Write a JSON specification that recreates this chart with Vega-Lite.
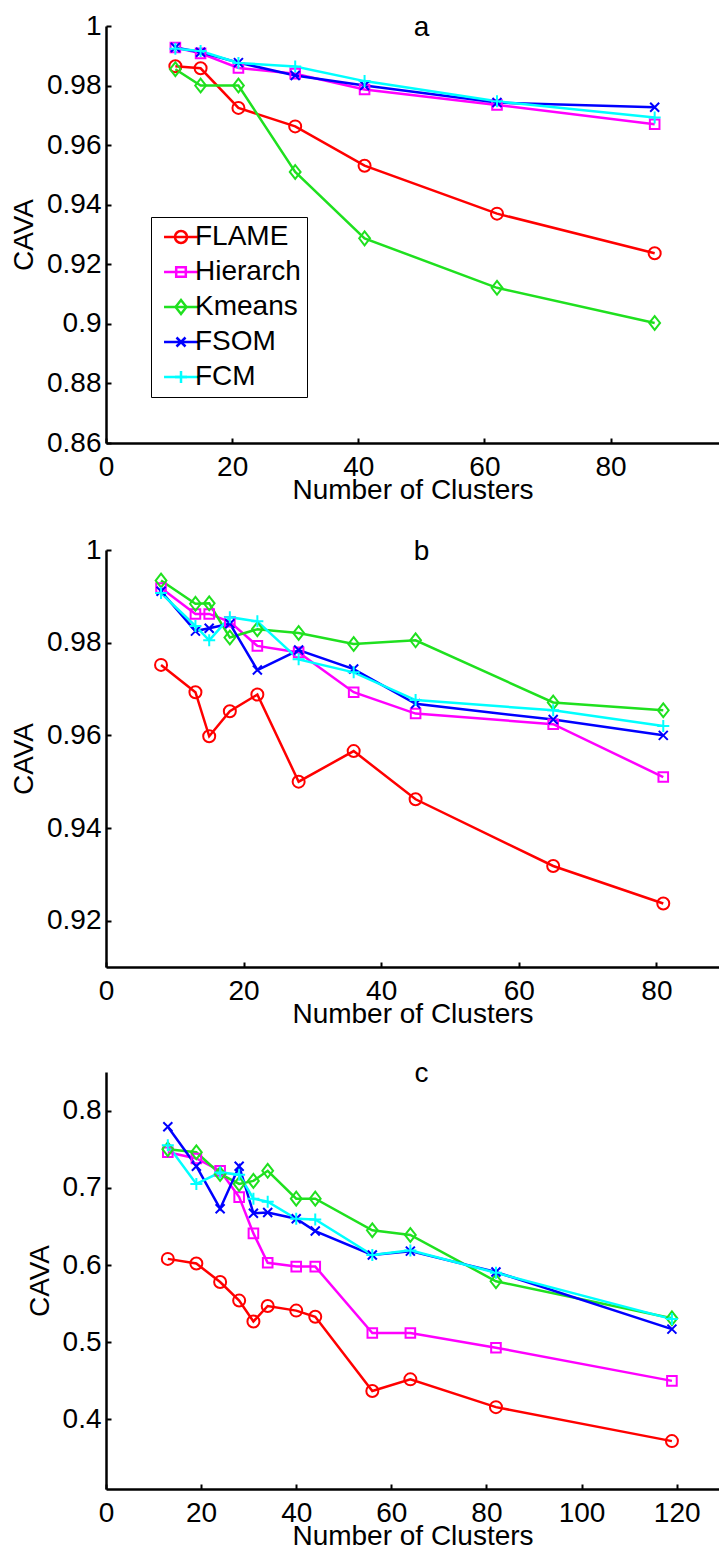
{
  "$schema": "https://vega.github.io/schema/vega-lite/v6.json",
  "background": "white",
  "padding": {"top": 12, "left": 10, "right": 0, "bottom": 0},
  "spacing": 32,
  "config": {
    "font": "Liberation Sans",
    "view": {"stroke": null},
    "axis": {
      "domainColor": "black", "domainWidth": 2.5, "tickColor": "black", "tickWidth": 2, "tickSize": -5,
      "labelColor": "black", "labelFontSize": 28, "labelFont": "Liberation Sans",
      "titleFont": "Liberation Sans", "titleFontSize": 28, "titleFontWeight": "normal", "titleColor": "black",
      "grid": false, "labelFlush": false, "labelOverlap": false
    },
    "axisX": {"labelPadding": 15, "titlePadding": -5},
    "axisY": {"labelPadding": 10, "titlePadding": 8},
    "title": {"fontSize": 28, "fontWeight": "normal", "font": "Liberation Sans", "color": "black", "frame": "group", "anchor": "middle", "offset": -30, "baseline": "alphabetic", "dx": 9}
  },
  "datasets": {
    "a": [
      {"series": "FLAME", "clusters": 11, "cava": 0.9865}, {"series": "FLAME", "clusters": 15, "cava": 0.9858}, {"series": "FLAME", "clusters": 21, "cava": 0.9725}, {"series": "FLAME", "clusters": 30, "cava": 0.9663}, {"series": "FLAME", "clusters": 41, "cava": 0.9531}, {"series": "FLAME", "clusters": 62, "cava": 0.937}, {"series": "FLAME", "clusters": 87, "cava": 0.9237},
      {"series": "Hierarch", "clusters": 11, "cava": 0.9928}, {"series": "Hierarch", "clusters": 15, "cava": 0.9908}, {"series": "Hierarch", "clusters": 21, "cava": 0.9859}, {"series": "Hierarch", "clusters": 30, "cava": 0.984}, {"series": "Hierarch", "clusters": 41, "cava": 0.9787}, {"series": "Hierarch", "clusters": 62, "cava": 0.9735}, {"series": "Hierarch", "clusters": 87, "cava": 0.967},
      {"series": "Kmeans", "clusters": 11, "cava": 0.9855}, {"series": "Kmeans", "clusters": 15, "cava": 0.98}, {"series": "Kmeans", "clusters": 21, "cava": 0.98}, {"series": "Kmeans", "clusters": 30, "cava": 0.951}, {"series": "Kmeans", "clusters": 41, "cava": 0.9287}, {"series": "Kmeans", "clusters": 62, "cava": 0.9121}, {"series": "Kmeans", "clusters": 87, "cava": 0.9003},
      {"series": "FSOM", "clusters": 11, "cava": 0.9928}, {"series": "FSOM", "clusters": 15, "cava": 0.9912}, {"series": "FSOM", "clusters": 21, "cava": 0.9877}, {"series": "FSOM", "clusters": 30, "cava": 0.9834}, {"series": "FSOM", "clusters": 41, "cava": 0.98}, {"series": "FSOM", "clusters": 62, "cava": 0.9743}, {"series": "FSOM", "clusters": 87, "cava": 0.9727},
      {"series": "FCM", "clusters": 11, "cava": 0.9924}, {"series": "FCM", "clusters": 15, "cava": 0.9916}, {"series": "FCM", "clusters": 21, "cava": 0.9876}, {"series": "FCM", "clusters": 30, "cava": 0.9864}, {"series": "FCM", "clusters": 41, "cava": 0.9815}, {"series": "FCM", "clusters": 62, "cava": 0.9747}, {"series": "FCM", "clusters": 87, "cava": 0.9693}
    ],
    "b": [
      {"series": "FLAME", "clusters": 8, "cava": 0.9752}, {"series": "FLAME", "clusters": 13, "cava": 0.9693}, {"series": "FLAME", "clusters": 15, "cava": 0.9598}, {"series": "FLAME", "clusters": 18, "cava": 0.9652}, {"series": "FLAME", "clusters": 22, "cava": 0.9688}, {"series": "FLAME", "clusters": 28, "cava": 0.95}, {"series": "FLAME", "clusters": 36, "cava": 0.9566}, {"series": "FLAME", "clusters": 45, "cava": 0.9462}, {"series": "FLAME", "clusters": 65, "cava": 0.9318}, {"series": "FLAME", "clusters": 81, "cava": 0.9237},
      {"series": "Hierarch", "clusters": 8, "cava": 0.9918}, {"series": "Hierarch", "clusters": 13, "cava": 0.9862}, {"series": "Hierarch", "clusters": 15, "cava": 0.9862}, {"series": "Hierarch", "clusters": 18, "cava": 0.9845}, {"series": "Hierarch", "clusters": 22, "cava": 0.9793}, {"series": "Hierarch", "clusters": 28, "cava": 0.9779}, {"series": "Hierarch", "clusters": 36, "cava": 0.9693}, {"series": "Hierarch", "clusters": 45, "cava": 0.9647}, {"series": "Hierarch", "clusters": 65, "cava": 0.9624}, {"series": "Hierarch", "clusters": 81, "cava": 0.951},
      {"series": "Kmeans", "clusters": 8, "cava": 0.9934}, {"series": "Kmeans", "clusters": 13, "cava": 0.9884}, {"series": "Kmeans", "clusters": 15, "cava": 0.9885}, {"series": "Kmeans", "clusters": 18, "cava": 0.9811}, {"series": "Kmeans", "clusters": 22, "cava": 0.9829}, {"series": "Kmeans", "clusters": 28, "cava": 0.9821}, {"series": "Kmeans", "clusters": 36, "cava": 0.9797}, {"series": "Kmeans", "clusters": 45, "cava": 0.9805}, {"series": "Kmeans", "clusters": 65, "cava": 0.9671}, {"series": "Kmeans", "clusters": 81, "cava": 0.9654},
      {"series": "FSOM", "clusters": 8, "cava": 0.9911}, {"series": "FSOM", "clusters": 13, "cava": 0.9825}, {"series": "FSOM", "clusters": 15, "cava": 0.9831}, {"series": "FSOM", "clusters": 18, "cava": 0.9841}, {"series": "FSOM", "clusters": 22, "cava": 0.9741}, {"series": "FSOM", "clusters": 28, "cava": 0.9784}, {"series": "FSOM", "clusters": 36, "cava": 0.9743}, {"series": "FSOM", "clusters": 45, "cava": 0.9668}, {"series": "FSOM", "clusters": 65, "cava": 0.9634}, {"series": "FSOM", "clusters": 81, "cava": 0.96},
      {"series": "FCM", "clusters": 8, "cava": 0.9907}, {"series": "FCM", "clusters": 13, "cava": 0.9836}, {"series": "FCM", "clusters": 15, "cava": 0.9805}, {"series": "FCM", "clusters": 18, "cava": 0.9855}, {"series": "FCM", "clusters": 22, "cava": 0.9846}, {"series": "FCM", "clusters": 28, "cava": 0.9764}, {"series": "FCM", "clusters": 36, "cava": 0.9736}, {"series": "FCM", "clusters": 45, "cava": 0.9676}, {"series": "FCM", "clusters": 65, "cava": 0.9654}, {"series": "FCM", "clusters": 81, "cava": 0.962}
    ],
    "c": [
      {"series": "FLAME", "clusters": 13, "cava": 0.608}, {"series": "FLAME", "clusters": 19, "cava": 0.602}, {"series": "FLAME", "clusters": 24, "cava": 0.578}, {"series": "FLAME", "clusters": 28, "cava": 0.554}, {"series": "FLAME", "clusters": 31, "cava": 0.527}, {"series": "FLAME", "clusters": 34, "cava": 0.547}, {"series": "FLAME", "clusters": 40, "cava": 0.541}, {"series": "FLAME", "clusters": 44, "cava": 0.533}, {"series": "FLAME", "clusters": 56, "cava": 0.437}, {"series": "FLAME", "clusters": 64, "cava": 0.452}, {"series": "FLAME", "clusters": 82, "cava": 0.416}, {"series": "FLAME", "clusters": 119, "cava": 0.372},
      {"series": "Hierarch", "clusters": 13, "cava": 0.746}, {"series": "Hierarch", "clusters": 19, "cava": 0.738}, {"series": "Hierarch", "clusters": 24, "cava": 0.722}, {"series": "Hierarch", "clusters": 28, "cava": 0.688}, {"series": "Hierarch", "clusters": 31, "cava": 0.641}, {"series": "Hierarch", "clusters": 34, "cava": 0.603}, {"series": "Hierarch", "clusters": 40, "cava": 0.598}, {"series": "Hierarch", "clusters": 44, "cava": 0.598}, {"series": "Hierarch", "clusters": 56, "cava": 0.512}, {"series": "Hierarch", "clusters": 64, "cava": 0.512}, {"series": "Hierarch", "clusters": 82, "cava": 0.493}, {"series": "Hierarch", "clusters": 119, "cava": 0.45},
      {"series": "Kmeans", "clusters": 13, "cava": 0.75}, {"series": "Kmeans", "clusters": 19, "cava": 0.746}, {"series": "Kmeans", "clusters": 24, "cava": 0.718}, {"series": "Kmeans", "clusters": 28, "cava": 0.705}, {"series": "Kmeans", "clusters": 31, "cava": 0.709}, {"series": "Kmeans", "clusters": 34, "cava": 0.722}, {"series": "Kmeans", "clusters": 40, "cava": 0.686}, {"series": "Kmeans", "clusters": 44, "cava": 0.686}, {"series": "Kmeans", "clusters": 56, "cava": 0.645}, {"series": "Kmeans", "clusters": 64, "cava": 0.639}, {"series": "Kmeans", "clusters": 82, "cava": 0.579}, {"series": "Kmeans", "clusters": 119, "cava": 0.531},
      {"series": "FSOM", "clusters": 13, "cava": 0.779}, {"series": "FSOM", "clusters": 19, "cava": 0.728}, {"series": "FSOM", "clusters": 24, "cava": 0.673}, {"series": "FSOM", "clusters": 28, "cava": 0.728}, {"series": "FSOM", "clusters": 31, "cava": 0.667}, {"series": "FSOM", "clusters": 34, "cava": 0.668}, {"series": "FSOM", "clusters": 40, "cava": 0.66}, {"series": "FSOM", "clusters": 44, "cava": 0.644}, {"series": "FSOM", "clusters": 56, "cava": 0.613}, {"series": "FSOM", "clusters": 64, "cava": 0.618}, {"series": "FSOM", "clusters": 82, "cava": 0.591}, {"series": "FSOM", "clusters": 119, "cava": 0.517},
      {"series": "FCM", "clusters": 13, "cava": 0.755}, {"series": "FCM", "clusters": 19, "cava": 0.705}, {"series": "FCM", "clusters": 24, "cava": 0.72}, {"series": "FCM", "clusters": 28, "cava": 0.717}, {"series": "FCM", "clusters": 31, "cava": 0.686}, {"series": "FCM", "clusters": 34, "cava": 0.682}, {"series": "FCM", "clusters": 40, "cava": 0.66}, {"series": "FCM", "clusters": 44, "cava": 0.659}, {"series": "FCM", "clusters": 56, "cava": 0.613}, {"series": "FCM", "clusters": 64, "cava": 0.619}, {"series": "FCM", "clusters": 82, "cava": 0.59}, {"series": "FCM", "clusters": 119, "cava": 0.53}
    ]
  },
  "resolve": {"scale": {"color": "independent", "shape": "independent", "stroke": "independent"}},
  "vconcat": [
    {
      "width": 613, "height": 417,
      "title": {"text": "a"},
      "data": {"name": "a"},
      "encoding": {
        "x": {"field": "clusters", "type": "quantitative", "scale": {"domain": [0, 97.2], "nice": false, "zero": false}, "axis": {"title": "Number of Clusters", "values": [0, 20, 40, 60, 80]}},
        "y": {"field": "cava", "type": "quantitative", "scale": {"domain": [0.86, 1], "nice": false, "zero": false}, "axis": {"title": "CAVA", "values": [0.86, 0.88, 0.9, 0.92, 0.94, 0.96, 0.98, 1], "format": ".2~f"}}
      },
      "layer": [
        {"mark": {"type": "line", "strokeWidth": 2.5},
          "encoding": {"color": {"field": "series", "type": "nominal", "sort": ["FLAME", "Hierarch", "Kmeans", "FSOM", "FCM"],
            "scale": {"range": ["#ff0000", "#ff00ff", "#1fe01f", "#0000ff", "#00ffff"]},
            "legend": {"title": null, "orient": "none", "legendX": 45, "legendY": 191, "strokeColor": "black", "padding": 6, "rowPadding": 7, "labelFontSize": 28, "labelColor": "black", "labelFont": "Liberation Sans", "labelOffset": 0, "labelLimit": 0, "symbolType": "M-2.83,0L2.83,0", "symbolSize": 144, "symbolStrokeWidth": 2.5, "symbolOffset": 10}}}
        },
        {"mark": {"type": "point", "filled": false, "strokeWidth": 2, "size": 144, "opacity": 1},
          "encoding": {
            "stroke": {"field": "series", "type": "nominal",
              "scale": {"domain": ["FLAME", "Hierarch", "Kmeans", "FSOM", "FCM"], "range": ["#ff0000", "#ff00ff", "#1fe01f", "#0000ff", "#00ffff"]},
              "legend": {"title": null, "orient": "none", "legendX": 45, "legendY": 191, "padding": 6, "rowPadding": 7, "labelFontSize": 28, "labelColor": "black", "labelFont": "Liberation Sans", "labelOffset": 0, "labelLimit": 0, "labelExpr": "' '", "symbolSize": 144, "symbolStrokeWidth": 2.5, "symbolOffset": 10}},
            "shape": {"field": "series", "type": "nominal",
              "scale": {"domain": ["FLAME", "Hierarch", "Kmeans", "FSOM", "FCM"], "range": ["circle", "M-0.8,-0.8L0.8,-0.8L0.8,0.8L-0.8,0.8Z", "M-0.9,0L0,-1.15L0.9,0L0,1.15Z", "M-0.75,-0.75L0.75,0.75M-0.75,0.75L0.75,-0.75", "M-1,0L1,0M0,-1L0,1"]},
              "legend": {"title": null, "orient": "none", "legendX": 45, "legendY": 191, "padding": 6, "rowPadding": 7, "labelFontSize": 28, "labelColor": "black", "labelFont": "Liberation Sans", "labelOffset": 0, "labelLimit": 0, "labelExpr": "' '", "symbolSize": 144, "symbolStrokeWidth": 2.5, "symbolOffset": 10}}
          }
        }
      ]
    },
    {
      "width": 613, "height": 417,
      "title": {"text": "b"},
      "data": {"name": "b"},
      "encoding": {
        "x": {"field": "clusters", "type": "quantitative", "scale": {"domain": [0, 89.1], "nice": false, "zero": false}, "axis": {"title": "Number of Clusters", "values": [0, 20, 40, 60, 80]}},
        "y": {"field": "cava", "type": "quantitative", "scale": {"domain": [0.91, 1], "nice": false, "zero": false}, "axis": {"title": "CAVA", "values": [0.92, 0.94, 0.96, 0.98, 1], "format": ".2~f"}},
        "color": {"field": "series", "type": "nominal", "legend": null,
          "scale": {"domain": ["FLAME", "Hierarch", "Kmeans", "FSOM", "FCM"], "range": ["#ff0000", "#ff00ff", "#1fe01f", "#0000ff", "#00ffff"]}}
      },
      "layer": [
        {"mark": {"type": "line", "strokeWidth": 2.5}},
        {"mark": {"type": "point", "filled": false, "strokeWidth": 2, "size": 144, "opacity": 1},
          "encoding": {"shape": {"field": "series", "type": "nominal", "legend": null,
            "scale": {"domain": ["FLAME", "Hierarch", "Kmeans", "FSOM", "FCM"], "range": ["circle", "M-0.8,-0.8L0.8,-0.8L0.8,0.8L-0.8,0.8Z", "M-0.9,0L0,-1.15L0.9,0L0,1.15Z", "M-0.75,-0.75L0.75,0.75M-0.75,0.75L0.75,-0.75", "M-1,0L1,0M0,-1L0,1"]}}}
        }
      ]
    },
    {
      "width": 613, "height": 417,
      "title": {"text": "c", "offset": -16},
      "data": {"name": "c"},
      "encoding": {
        "x": {"field": "clusters", "type": "quantitative", "scale": {"domain": [0, 128.9], "nice": false, "zero": false}, "axis": {"title": "Number of Clusters", "values": [0, 20, 40, 60, 80, 100, 120]}},
        "y": {"field": "cava", "type": "quantitative", "scale": {"domain": [0.31, 0.85], "nice": false, "zero": false}, "axis": {"title": "CAVA", "values": [0.4, 0.5, 0.6, 0.7, 0.8], "format": ".1~f"}},
        "color": {"field": "series", "type": "nominal", "legend": null,
          "scale": {"domain": ["FLAME", "Hierarch", "Kmeans", "FSOM", "FCM"], "range": ["#ff0000", "#ff00ff", "#1fe01f", "#0000ff", "#00ffff"]}}
      },
      "layer": [
        {"mark": {"type": "line", "strokeWidth": 2.5}},
        {"mark": {"type": "point", "filled": false, "strokeWidth": 2, "size": 144, "opacity": 1},
          "encoding": {"shape": {"field": "series", "type": "nominal", "legend": null,
            "scale": {"domain": ["FLAME", "Hierarch", "Kmeans", "FSOM", "FCM"], "range": ["circle", "M-0.8,-0.8L0.8,-0.8L0.8,0.8L-0.8,0.8Z", "M-0.9,0L0,-1.15L0.9,0L0,1.15Z", "M-0.75,-0.75L0.75,0.75M-0.75,0.75L0.75,-0.75", "M-1,0L1,0M0,-1L0,1"]}}}
        }
      ]
    }
  ]
}
